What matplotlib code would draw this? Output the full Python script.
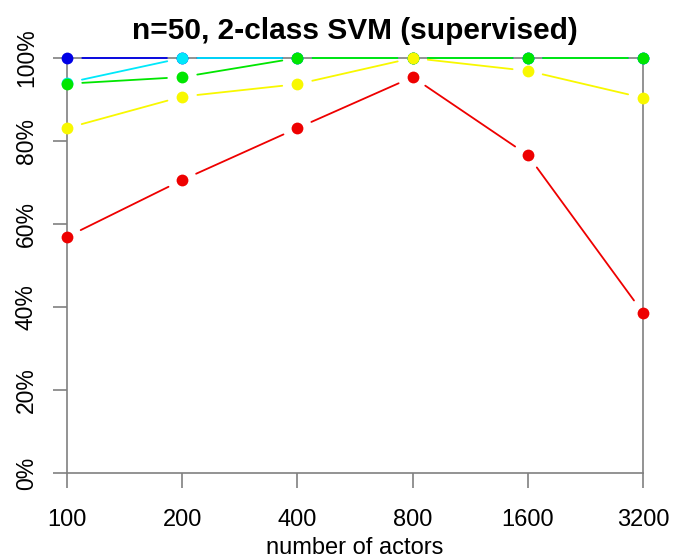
import numpy as np
import matplotlib
matplotlib.use('Agg')
import matplotlib.pyplot as plt

plt.rcParams['font.family'] = ['Liberation Sans', 'DejaVu Sans']

actors = [100, 200, 400, 800, 1600, 3200]
actor_labels = ['100', '200', '400', '800', '1600', '3200']

# accuracy per setting, drawn bottom-up in this order
series_colors = ['#0000e6', '#00e8fa', '#00e600', '#f8f800', '#ee0000']
acc_blue = [1.000, 1.000, 1.000, 1.000, 1.000, 1.000]
acc_cyan = [0.940, 1.000, 1.000, 1.000, 1.000, 1.000]
acc_green = [0.938, 0.954, 1.000, 1.000, 1.000, 1.000]
acc_yellow = [0.831, 0.907, 0.937, 1.000, 0.969, 0.904]
acc_red = [0.569, 0.706, 0.831, 0.954, 0.766, 0.386]
all_acc = [acc_blue, acc_cyan, acc_green, acc_yellow, acc_red]

y_ticks = [0, 0.2, 0.4, 0.6, 0.8, 1.0]
y_labels = ['0%', '20%', '40%', '60%', '80%', '100%']

fig = plt.figure(figsize=(6.73, 5.60), dpi=100)
ax = fig.add_axes([67 / 673, 87 / 560, 576 / 673, 415 / 560])

xpos = np.log2(np.array(actors) / actors[0])
ax.set_xlim(xpos[0], xpos[-1])
ax.set_ylim(0, 1)

frame = '#808080'
for s in ax.spines.values():
    s.set_color(frame)
    s.set_linewidth(1.2)

# R style type="b": lines stop short of each point
for acc, col in zip(all_acc, series_colors):
    for i in range(len(xpos) - 1):
        ax.annotate('', xy=(xpos[i + 1], acc[i + 1]), xytext=(xpos[i], acc[i]),
                    arrowprops=dict(arrowstyle='-', color=col, lw=1.3,
                                    shrinkA=11, shrinkB=11),
                    annotation_clip=False)
    ax.plot(xpos, acc, linestyle='none', marker='o', markersize=8.5,
            color=col, markeredgewidth=0, clip_on=False, zorder=3)

ax.set_xticks(xpos)
ax.set_xticklabels(actor_labels, fontsize=17)
ax.set_yticks(y_ticks)
ax.set_yticklabels(y_labels, fontsize=16.5, rotation=90, va='center')
ax.tick_params(axis='x', length=11, width=1.2, color=frame, pad=15)
ax.tick_params(axis='y', length=10, width=1.2, color=frame, pad=11)

ax.set_xlabel('number of actors', fontsize=17, labelpad=4)
ax.set_title('n=50, 2-class SVM (supervised)', fontsize=21.5, fontweight='bold', pad=13.5)

fig.savefig('out.png', dpi=100)
